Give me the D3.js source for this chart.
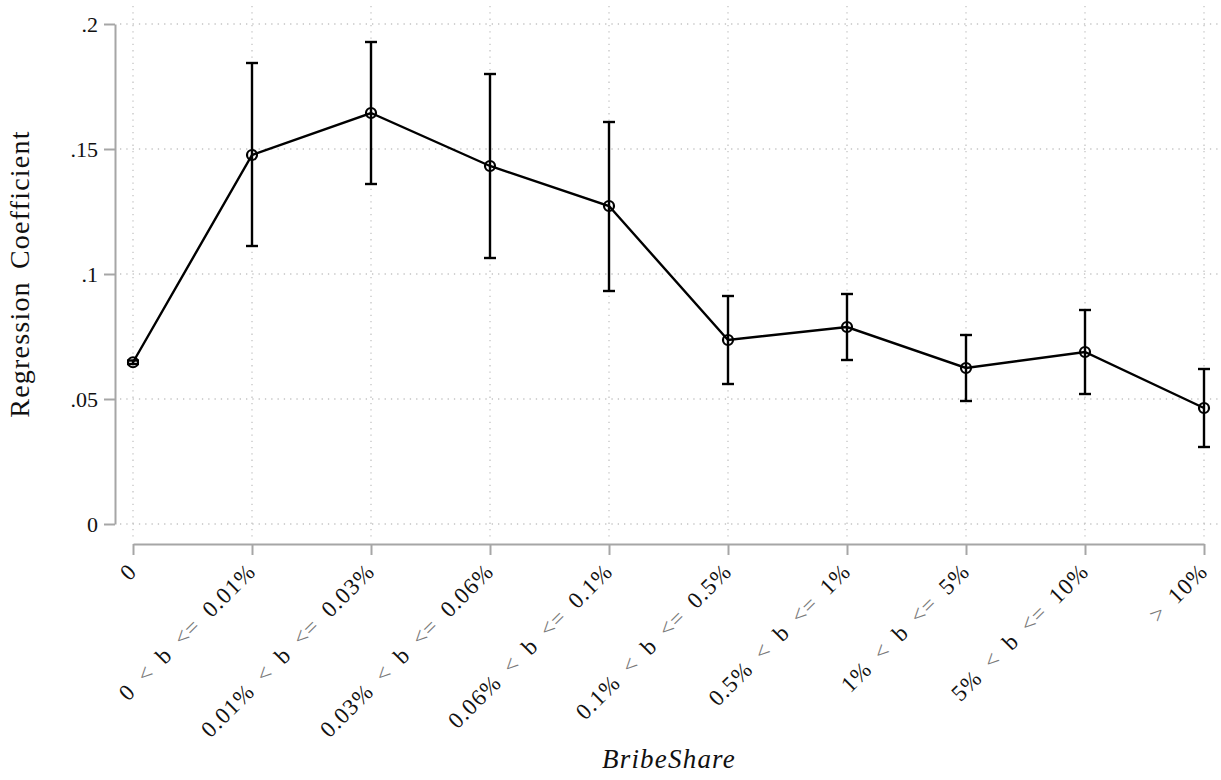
<!DOCTYPE html>
<html><head><meta charset="utf-8">
<script src="https://cdn.jsdelivr.net/npm/d3@7"></script>
<style>body{margin:0;background:#fff}svg{display:block}</style>
</head><body>
<svg id="c" width="1221" height="780"></svg>
<script>
const categories = [["0"],["0","<","b","<=","0.01%"],["0.01%","<","b","<=","0.03%"],["0.03%","<","b","<=","0.06%"],["0.06%","<","b","<=","0.1%"],["0.1%","<","b","<=","0.5%"],["0.5%","<","b","<=","1%"],["1%","<","b","<=","5%"],["5%","<","b","<=","10%"],[">","10%"]];
const coef  = [0.0647,0.1476,0.1644,0.1432,0.1272,0.0736,0.0788,0.0624,0.0688,0.0464];
const upper = [0.0654,0.1844,0.1928,0.1800,0.1608,0.0912,0.0920,0.0756,0.0856,0.0620];
const lower = [0.0640,0.1112,0.1360,0.1064,0.0932,0.0560,0.0656,0.0492,0.0520,0.0308];
const yTicks = [0,0.05,0.1,0.15,0.2];
const yTickLabels = ["0",".05",".1",".15",".2"];

const svg = d3.select("#c");
const font = '"Liberation Serif", "Tinos", "Times New Roman", serif';
const x = d3.scalePoint().domain(d3.range(categories.length)).range([133,1204]);
const y = d3.scaleLinear().domain([0,0.2]).range([524,24]);
const axisCol = "#a6a6a6";

// grid
svg.append("g").selectAll("line").data(yTicks).join("line")
  .attr("x1",120).attr("x2",1221).attr("y1",d=>y(d)).attr("y2",d=>y(d))
  .attr("stroke","#c4c4c4").attr("stroke-width",1.3).attr("stroke-dasharray","1.3,5");
svg.append("g").selectAll("line").data(d3.range(categories.length)).join("line")
  .attr("x1",d=>x(d)).attr("x2",d=>x(d)).attr("y1",6).attr("y2",540)
  .attr("stroke","#c4c4c4").attr("stroke-width",1.3).attr("stroke-dasharray","1.3,5");

// y axis
const ya = svg.append("g").attr("transform","translate(115,0)")
  .call(d3.axisLeft(y).tickValues(yTicks).tickFormat((d,i)=>yTickLabels[i]).tickSize(11).tickSizeOuter(0).tickPadding(6));
ya.select(".domain").attr("stroke",axisCol).attr("stroke-width",2);
ya.selectAll(".tick line").attr("stroke",axisCol).attr("stroke-width",2);
ya.selectAll(".tick text").style("font-family",font).style("font-size","22px").attr("fill","#111");

// x axis
const xa = svg.append("g").attr("transform","translate(0,544)")
  .call(d3.axisBottom(x).tickSize(11).tickSizeOuter(0).tickFormat(""));
xa.select(".domain").attr("stroke",axisCol).attr("stroke-width",2);
xa.selectAll(".tick line").attr("stroke",axisCol).attr("stroke-width",2);

const lab = svg.append("g").selectAll("text").data(categories).join("text")
  .attr("transform",(d,i)=>`translate(${x(i)+5},${573}) rotate(-45)`)
  .attr("text-anchor","end").style("font-family",font).style("font-size","23px")
  .style("letter-spacing","1px").style("word-spacing","6px").attr("fill","#111");
lab.each(function(d){
  const t = d3.select(this);
  d.forEach((w,j)=>{
    t.append("tspan").text((j?" ":"")+w)
      .attr("fill",(w==="<"||w==="<="||w===">")?"#7a7a7a":"#111");
  });
});

// axis titles
svg.append("text").attr("transform","translate(29,274) rotate(-90)").attr("text-anchor","middle")
  .style("font-family",font).style("font-size","28px").style("letter-spacing","1.2px").style("word-spacing","4px")
  .attr("fill","#111").text("Regression Coefficient");
svg.append("text").attr("x",669).attr("y",768).attr("text-anchor","middle")
  .style("font-family",font).style("font-style","italic").style("font-size","27px").style("letter-spacing","1.2px")
  .attr("fill","#111").text("BribeShare");

// error bars
const idx = d3.range(categories.length);
const eb = svg.append("g").attr("stroke","#000").attr("stroke-width",2.4);
eb.selectAll(".v").data(idx).join("line").attr("x1",i=>x(i)).attr("x2",i=>x(i)).attr("y1",i=>y(upper[i])).attr("y2",i=>y(lower[i]));
eb.selectAll(".u").data(idx).join("line").attr("x1",i=>x(i)-6).attr("x2",i=>x(i)+6).attr("y1",i=>y(upper[i])).attr("y2",i=>y(upper[i]));
eb.selectAll(".l").data(idx).join("line").attr("x1",i=>x(i)-6).attr("x2",i=>x(i)+6).attr("y1",i=>y(lower[i])).attr("y2",i=>y(lower[i]));

// line
svg.append("path").datum(idx).attr("fill","none").attr("stroke","#000").attr("stroke-width",2.4)
  .attr("d",d3.line().x(i=>x(i)).y(i=>y(coef[i])));

// markers
svg.append("g").selectAll("circle").data(idx).join("circle")
  .attr("cx",i=>x(i)).attr("cy",i=>y(coef[i])).attr("r",5)
  .attr("fill","none").attr("stroke","#000").attr("stroke-width",2.2);
</script>
</body></html>
